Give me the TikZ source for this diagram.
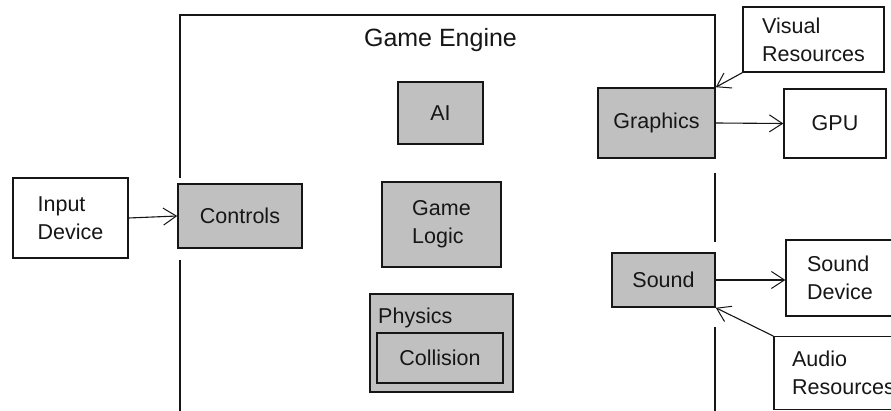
\documentclass[tikz,border=0pt]{standalone}
\usepackage{fontspec}
\setmainfont{Liberation Sans}
\usetikzlibrary{arrows.meta}
\definecolor{boxgray}{RGB}{192,192,192}
\definecolor{ink}{RGB}{22,22,22}
\begin{document}
\begin{tikzpicture}[x=1pt,y=-1pt,
  every node/.style={font=\fontsize{21.5}{28}\selectfont, text=ink, inner sep=0pt},
  gbox/.style={draw=ink, line width=1.6pt, fill=boxgray},
  wbox/.style={draw=ink, line width=1.4pt, fill=white},
  arr/.style={draw=ink, line width=1.1pt, -{Straight Barb[length=13pt,width=17pt,line width=1pt]}},
  frame/.style={draw=ink, line width=1.5pt}]
\clip (0,0) rectangle (891,411);
\fill[white] (0,0) rectangle (891,411);

% Game Engine frame (open at the bottom)
\draw[frame] (180,178) -- (180,15) -- (715,15) -- (715,88);
\draw[frame] (180,260) -- (180,420);
\draw[frame] (715,173) -- (715,242);
\draw[frame] (715,327) -- (715,420);
\node[anchor=base, font=\fontsize{25}{30}\selectfont] (title) at (440.5,47) {Game Engine};

% inner components
\node[gbox, minimum width=124, minimum height=64] (ctrl) at (240,216) {Controls};
\node[gbox, minimum width=85, minimum height=62] (ai) at (440.5,113) {AI};
\node[gbox, minimum width=119, minimum height=85, align=left] (logic) at (441.5,224.5) {Game\\Logic};
\node[gbox, minimum width=143, minimum height=98] (phys) at (441.5,343) {};
\node[anchor=base west] (physlbl) at (378,324) {Physics};
\node[gbox, minimum width=126, minimum height=50] (coll) at (440,358) {Collision};
\node[gbox, minimum width=117, minimum height=70] (gfx) at (656.5,123) {Graphics};
\node[gbox, minimum width=103, minimum height=54] (snd) at (663.5,280) {Sound};

% outer components
\node[wbox, minimum width=115, minimum height=80, align=left] (input) at (70.5,218) {Input\\Device};
\node[wbox, minimum width=141, minimum height=65, align=left] (vis) at (813.5,39.5) {Visual\\Resources};
\node[wbox, minimum width=102, minimum height=69] (gpu) at (835,123.5) {GPU};
\node[wbox, minimum width=108, minimum height=76, align=left] (sdev) at (840,278) {Sound\\Device};
\node[wbox, minimum width=139, minimum height=72.5, align=left] (aud) at (843.5,373) {Audio\\Resources};

% connectors
\draw[arr] (input.east) -- (ctrl.west);
\draw[arr] (gfx.east) -- (gpu.west);
\draw[arr] (vis.south west) -- (gfx.north east);
\draw[arr] (snd.east) -- (snd.east -| sdev.west);
\draw[arr] (aud.north west) -- (snd.south east);
\end{tikzpicture}
\end{document}
